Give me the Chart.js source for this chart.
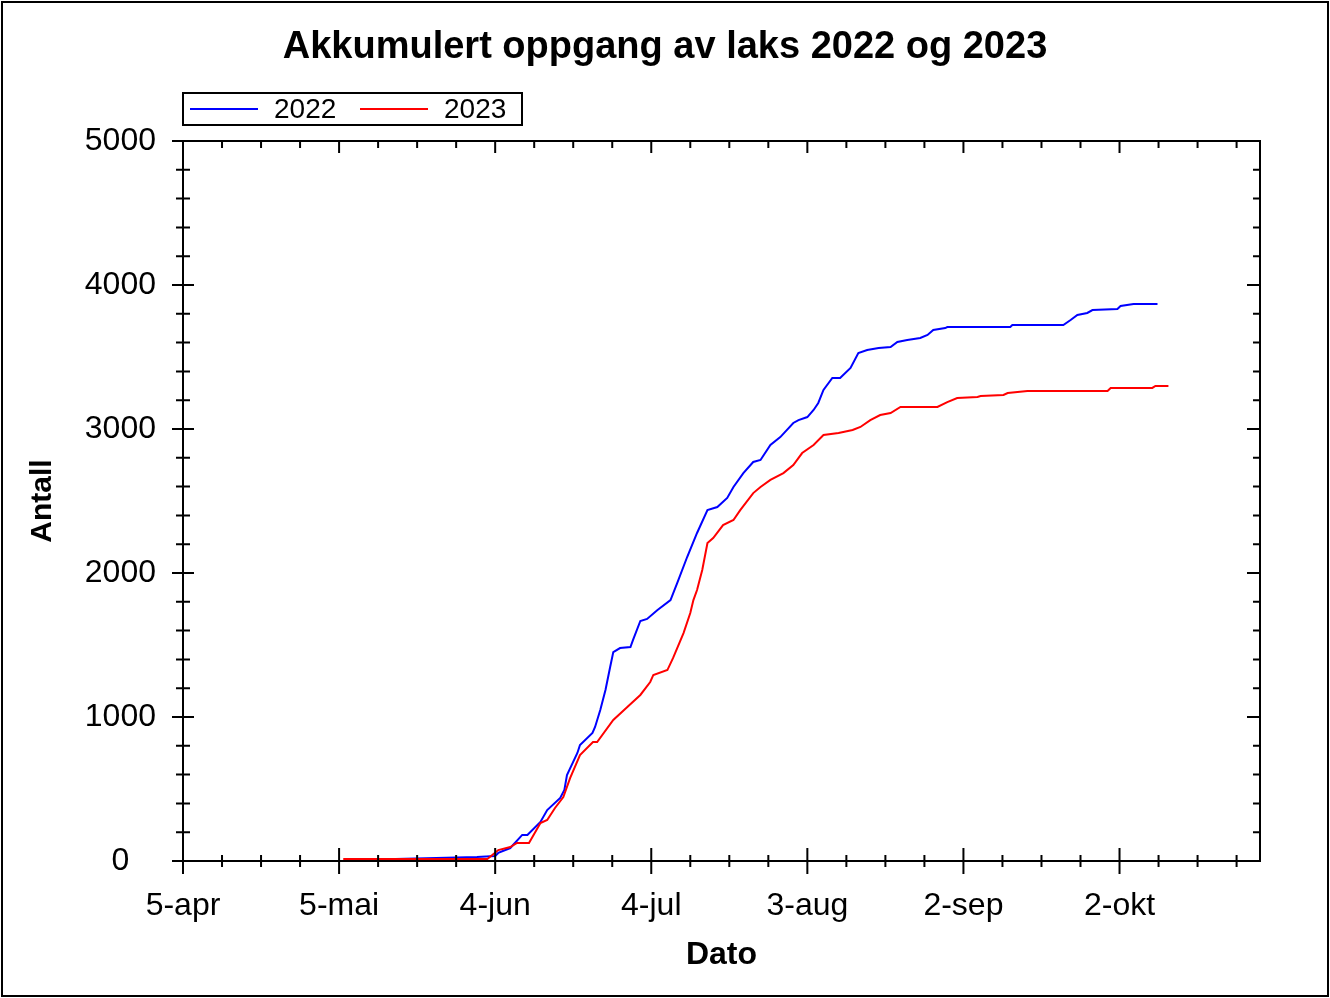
<!DOCTYPE html>
<html>
<head>
<meta charset="utf-8">
<style>
  html, body { margin: 0; padding: 0; background: #fff; }
  canvas { display: block; }
</style>
<script src="https://cdn.jsdelivr.net/npm/chart.js@4.4.1/dist/chart.umd.min.js"></script>
</head>
<body>
<canvas id="c" width="1330" height="998"></canvas>
<script>
// ---- Data (x = days after 5 April) ----
const chartTitle = "Akkumulert oppgang av laks 2022 og 2023";
const seriesLabels = ["2022", "2023"];
const xTickLabels = ["5-apr", "5-mai", "4-jun", "4-jul", "3-aug", "2-sep", "2-okt"];

const days2022 = [31, 56.5, 60.0, 60.6, 62.9, 65.2, 66.2, 68.7, 70.0, 72.5, 73.3, 73.8, 75.8, 76.3, 78.7, 79.2, 80.2, 81.2, 82.1, 82.7, 84.0, 86.0, 86.5, 87.9, 89.2, 91.2, 93.7, 95.0, 96.9, 98.8, 100.8, 102.7, 104.6, 105.8, 107.7, 109.6, 111.0, 112.9, 114.8, 117.3, 118.3, 120.0, 121.2, 122.1, 123.1, 124.8, 126.3, 128.3, 129.8, 131.5, 133.7, 136.0, 137.3, 139.2, 141.7, 143.1, 144.2, 146.5, 146.9, 159.0, 159.4, 169.2, 170.6, 171.9, 173.8, 174.8, 179.6, 180.2, 182.7, 187.3];
const values2022 = [5, 28, 35, 56, 90, 181, 181, 271, 354, 438, 493, 597, 750, 806, 889, 931, 1049, 1188, 1347, 1451, 1479, 1486, 1535, 1667, 1681, 1743, 1812, 1931, 2111, 2278, 2437, 2458, 2521, 2597, 2694, 2771, 2785, 2889, 2944, 3042, 3062, 3083, 3132, 3181, 3271, 3354, 3354, 3424, 3528, 3549, 3563, 3569, 3604, 3618, 3632, 3653, 3688, 3701, 3708, 3708, 3722, 3722, 3757, 3792, 3806, 3826, 3833, 3854, 3868, 3868];

const days2023 = [30.8, 58.5, 60.6, 62.9, 64.2, 66.5, 68.7, 70.0, 71.5, 73.1, 74.4, 76.3, 78.8, 79.6, 82.7, 85.4, 87.9, 89.8, 90.4, 93.1, 94.2, 96.2, 97.5, 98.1, 98.8, 99.8, 100.8, 101.9, 103.8, 105.8, 107.1, 109.6, 111.0, 112.9, 115.4, 117.3, 119.0, 121.2, 123.1, 126.0, 128.7, 130.2, 132.1, 134.0, 136.0, 137.9, 145.0, 146.9, 148.8, 152.7, 153.3, 157.7, 158.5, 162.3, 177.7, 178.3, 186.3, 186.9, 189.4];
const values2023 = [14, 14, 76, 97, 125, 125, 264, 285, 368, 444, 576, 736, 826, 826, 979, 1069, 1153, 1243, 1292, 1326, 1410, 1583, 1722, 1812, 1882, 2021, 2208, 2243, 2333, 2368, 2437, 2555, 2597, 2646, 2694, 2750, 2833, 2889, 2958, 2972, 2993, 3014, 3062, 3097, 3111, 3153, 3153, 3187, 3215, 3222, 3229, 3236, 3250, 3264, 3264, 3285, 3285, 3299, 3299];

const xMin = 0, xMax = 207, xStep = 7.5, xMajor = 30;
const yMin = 0, yMax = 5000, yStep = 200, yMajor = 1000;
// ---------------------------------------

const FONT = "'Liberation Sans', Arial, Helvetica, sans-serif";
const toPts = (xs, ys) => xs.map((x, i) => ({ x: x, y: ys[i] }));
const isMajor = (v, m) => Math.abs(v / m - Math.round(v / m)) < 1e-6;

const framePlugin = {
  id: 'frame',
  afterDraw(chart) {
    const ctx = chart.ctx;
    const a = chart.chartArea;
    const xs = chart.scales.x, ys = chart.scales.y;
    ctx.save();
    ctx.strokeStyle = '#000';
    ctx.lineWidth = 2;
    ctx.strokeRect(a.left, a.top, a.right - a.left, a.bottom - a.top);
    ctx.beginPath();
    xs.ticks.forEach(t => {
      const px = xs.getPixelForValue(t.value);
      const maj = isMajor(t.value, xMajor);
      const d = maj ? 13 : 6;
      ctx.moveTo(px, a.bottom - d); ctx.lineTo(px, a.bottom + d);
      ctx.moveTo(px, a.top); ctx.lineTo(px, a.top + (maj ? 12 : 7));
    });
    ys.ticks.forEach(t => {
      const py = ys.getPixelForValue(t.value);
      const maj = isMajor(t.value, yMajor);
      const d = maj ? 11 : 7;
      ctx.moveTo(a.left - d, py); ctx.lineTo(a.left + d, py);
      ctx.moveTo(a.right, py); ctx.lineTo(a.right - (maj ? 13 : 7), py);
    });
    ctx.stroke();

    // outer border
    ctx.lineWidth = 2;
    ctx.strokeRect(2, 2, chart.width - 4, chart.height - 4);

    // title
    ctx.fillStyle = '#000';
    ctx.font = 'bold 38px ' + FONT;
    ctx.textAlign = 'center';
    ctx.textBaseline = 'middle';
    ctx.fillText(chartTitle, chart.width / 2, 48);

    // legend
    const lx = a.left, ly = 93, lw = 339, lh = 32;
    ctx.lineWidth = 2;
    ctx.strokeRect(lx, ly, lw, lh);
    ctx.font = '28px ' + FONT;
    ctx.textAlign = 'left';
    let x = lx + 7;
    const cy = ly + lh / 2;
    chart.data.datasets.forEach(ds => {
      ctx.strokeStyle = ds.borderColor;
      ctx.beginPath();
      ctx.moveTo(x, cy); ctx.lineTo(x + 68, cy);
      ctx.stroke();
      ctx.fillStyle = '#000';
      ctx.fillText(ds.label, x + 84, cy + 1);
      x += 170;
    });
    ctx.restore();
  }
};

new Chart(document.getElementById('c'), {
  type: 'line',
  data: {
    datasets: [
      { label: seriesLabels[0], data: toPts(days2022, values2022), borderColor: '#0000ff', borderWidth: 2, pointRadius: 0, tension: 0, fill: false, order: 2 },
      { label: seriesLabels[1], data: toPts(days2023, values2023), borderColor: '#ff0000', borderWidth: 2, pointRadius: 0, tension: 0, fill: false, order: 1 }
    ]
  },
  options: {
    responsive: false,
    animation: false,
    devicePixelRatio: 1,
    layout: { padding: { top: 141, right: 70, left: 0, bottom: 0 } },
    plugins: {
      legend: { display: false },
      title: { display: false },
      tooltip: { enabled: false }
    },
    scales: {
      x: {
        type: 'linear',
        min: xMin, max: xMax,
        grid: { display: false, drawTicks: false, tickLength: 0 },
        border: { display: false },
        ticks: {
          stepSize: xStep,
          includeBounds: false,
          autoSkip: false,
          maxRotation: 0,
          padding: 26,
          color: '#000',
          font: { family: FONT, size: 32 },
          callback: v => isMajor(v, xMajor) ? xTickLabels[Math.round(v / xMajor)] : ''
        },
        title: { display: true, text: 'Dato', color: '#000', font: { family: FONT, size: 32, weight: 'bold', lineHeight: 1.2 }, padding: { top: 0, bottom: 24 } },
        afterFit: s => { s.height = 137; }
      },
      y: {
        type: 'linear',
        min: yMin, max: yMax,
        grid: { display: false, drawTicks: false, tickLength: 0 },
        border: { display: false },
        ticks: {
          stepSize: yStep,
          autoSkip: false,
          padding: 27,
          crossAlign: 'center',
          color: '#000',
          font: { family: FONT, size: 32 },
          callback: v => isMajor(v, yMajor) ? String(v) : ''
        },
        title: { display: true, text: 'Antall', color: '#000', font: { family: FONT, size: 30, weight: 'bold', lineHeight: 1.2 }, padding: { top: 25, bottom: 0 } },
        afterFit: s => { s.width = 183; }
      }
    }
  },
  plugins: [framePlugin]
});
</script>
</body>
</html>
